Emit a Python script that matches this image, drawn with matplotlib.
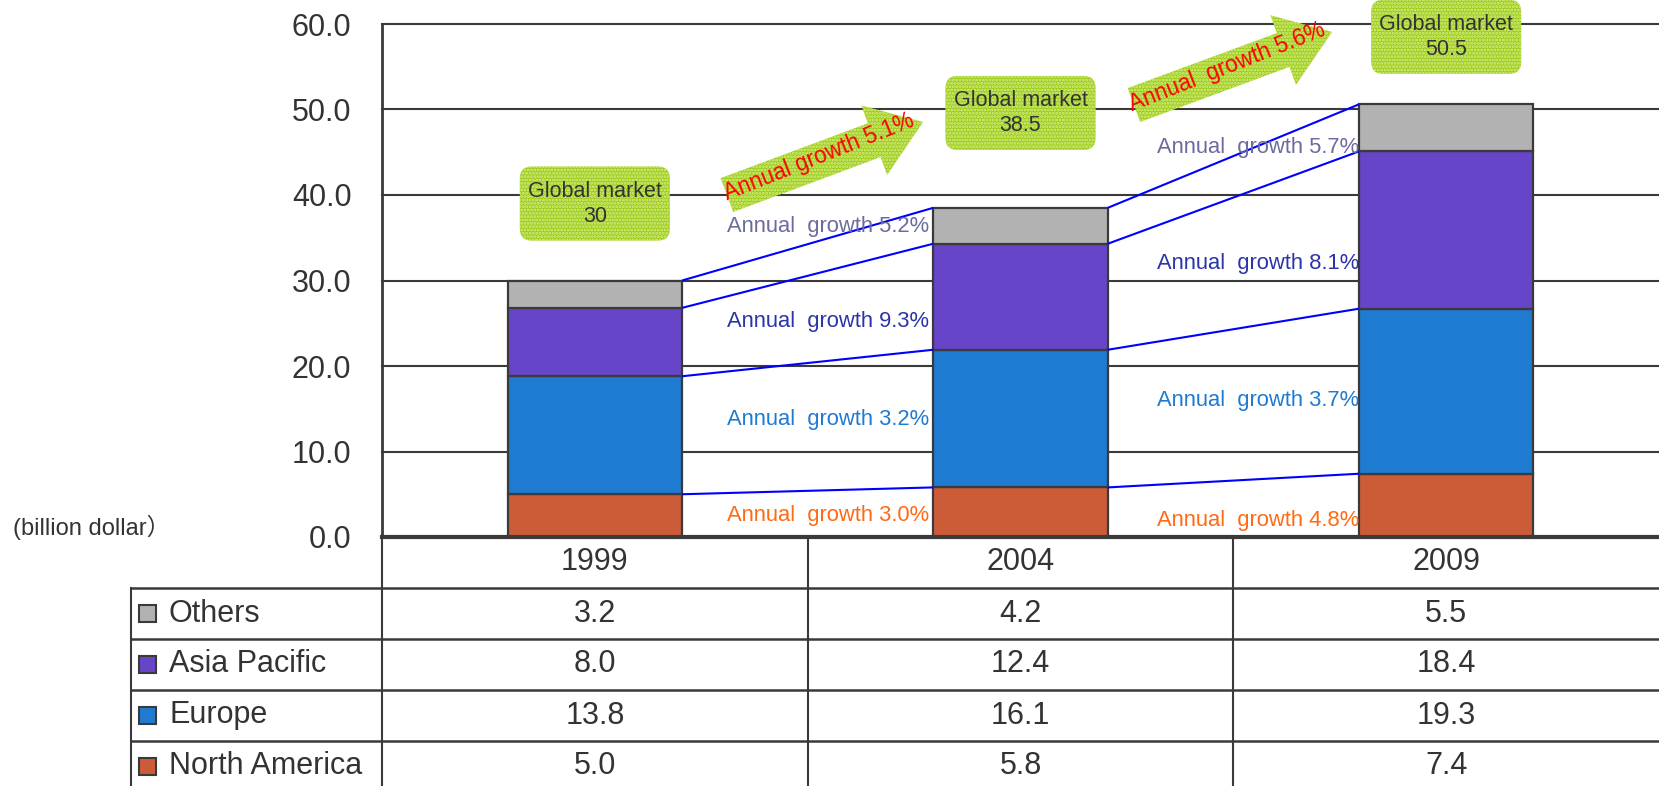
import matplotlib
matplotlib.use("Agg")
import matplotlib.pyplot as plt
from matplotlib.patches import FancyBboxPatch, FancyArrow, Rectangle
import numpy as np

plt.rcParams['font.family'] = ['Liberation Sans', 'Noto Sans CJK JP', 'DejaVu Sans']
plt.rcParams['hatch.linewidth'] = 1.4

# ---------------- data ----------------
years = ["1999", "2004", "2009"]
regions = ["North America", "Europe", "Asia Pacific", "Others"]
north_america = [5.0, 5.8, 7.4]
europe = [13.8, 16.1, 19.3]
asia_pacific = [8.0, 12.4, 18.4]
others = [3.2, 4.2, 5.5]
global_market = [30, 38.5, 50.5]
# annual growth per region (1999->2004, 2004->2009), order as regions
growth_p1 = [3.0, 3.2, 9.3, 5.2]
growth_p2 = [4.8, 3.7, 8.1, 5.7]
global_growth = [5.1, 5.6]
yticks = [0, 10, 20, 30, 40, 50, 60]

# ---------------- style / layout ----------------
colors = ["#cc5c38", "#1f7bd1", "#6645c9", "#b2b2b2"]
text_colors = ["#ff6a13", "#1f7bd1", "#2b34a8", "#6b6b9e"]
dark = "#3a3a3a"
green = "#9dcc1a"
dots = "#d6ee88"
label_y_p1 = [2.5, 13.8, 25.2, 36.3]
label_y_p2 = [1.9, 16.0, 32.0, 45.5]
label_x = [0.785, 1.795]
box_y = [39.0, 49.6, 58.5]

W, H = 1659, 786
fig = plt.figure(figsize=(W / 100, H / 100), dpi=100)
ax_left, ax_bottom, ax_top = 382, 786 - 537, 786 - 24
ax = fig.add_axes([ax_left / W, ax_bottom / H, 1 - ax_left / W, (ax_top - ax_bottom) / H])
ax.set_xlim(-0.5, 2.5)
ax.set_ylim(0, 60)

x = np.arange(len(years))
bw = 0.41
series = [north_america, europe, asia_pacific, others]
bottom = np.zeros(len(years))
cums = []
for vals, c in zip(series, colors):
    ax.bar(x, vals, bw, bottom=bottom, color=c, edgecolor=dark, linewidth=1.6, zorder=3)
    bottom = bottom + np.array(vals)
    cums.append(bottom.copy())

# connector lines
for k in range(len(series)):
    for i in range(len(years) - 1):
        ax.plot([x[i] + bw / 2, x[i + 1] - bw / 2], [cums[k][i], cums[k][i + 1]],
                color="#0000ff", lw=1.5, zorder=4, solid_capstyle='butt')

# growth labels
for k in range(len(series)):
    ax.text(label_x[0], label_y_p1[k], f"Annual  growth {growth_p1[k]:.1f}%", ha='right', va='center',
            fontsize=15.8, color=text_colors[k], zorder=5)
    ax.text(label_x[1], label_y_p2[k], f"Annual  growth {growth_p2[k]:.1f}%", ha='right', va='center',
            fontsize=15.8, color=text_colors[k], zorder=5)

ax.set_yticks(yticks)
ax.set_yticklabels([f"{v:.1f}" for v in yticks], fontsize=22, color="#333333")
ax.tick_params(axis='y', length=0, pad=22)
ax.set_xticks([])
for v in yticks[1:]:
    ax.axhline(v, color=dark, lw=1.5, zorder=0, clip_on=False)
for s in ['top', 'right', 'bottom']:
    ax.spines[s].set_visible(False)
ax.spines['left'].set_color(dark)
ax.spines['left'].set_linewidth(2)
ax.axhline(0, color=dark, lw=3, zorder=6, clip_on=False)

# ---------------- overlay in pixel coords ----------------
ov = fig.add_axes([0, 0, 1, 1], facecolor='none')
ov.set_xlim(0, W)
ov.set_ylim(0, H)
ov.axis('off')
fig.canvas.draw()

def to_px(xd, yd):
    return ax.transData.transform((xd, yd))

# global market boxes
for i, (gm, by) in enumerate(zip(global_market, box_y)):
    cx, cy = to_px(x[i], by)
    bwp, bhp = 150, 74
    p = FancyBboxPatch((cx - bwp / 2, cy - bhp / 2), bwp, bhp,
                       boxstyle="round,pad=0,rounding_size=12",
                       facecolor=green, edgecolor=dots, linewidth=0, hatch='.....', zorder=7)
    ov.add_patch(p)
    ov.text(cx, cy, f"Global market\n{gm:g}", ha='center', va='center', fontsize=15.5,
            color="#333333", linespacing=1.25, zorder=8)

# global growth arrows
arrows = [((727, 786 - 195), (923, 786 - 122)), ((1134, 786 - 105), (1332, 786 - 32))]
for (t, tip), g, txt in zip(arrows, global_growth, ["Annual growth", "Annual  growth"]):
    dx, dy = tip[0] - t[0], tip[1] - t[1]
    a = FancyArrow(t[0], t[1], dx, dy, width=36, head_width=74, head_length=52,
                   length_includes_head=True, facecolor=green, edgecolor=dots, linewidth=0,
                   hatch='.....', zorder=7)
    ov.add_patch(a)
    ang = np.degrees(np.arctan2(dy, dx)) + 1.2
    mx, my = t[0] + dx * 0.47, t[1] + dy * 0.47 + 4
    ov.text(mx, my, f"{txt} {g:.1f}%", ha='center', va='center', rotation=ang,
            rotation_mode='anchor', fontsize=16.3, color="#ff0000", zorder=8)

# unit label
ov.text(13, 786 - 527, "(billion dollar）", ha='left', va='center', fontsize=17, color="#333333")

# ---------------- table ----------------
col_edges = [to_px(v, 0)[0] for v in [-0.5, 0.5, 1.5, 2.5]]
top_y = 786 - 537
row_h = 51
tab_left = 131
lc = dark
for xe in col_edges[:-1]:
    ov.plot([xe, xe], [top_y, -10], color=lc, lw=1.5, zorder=5)
ov.plot([tab_left, tab_left], [top_y - row_h, -10], color=lc, lw=1.5, zorder=5)
for r in range(1, 5):
    yy = top_y - r * row_h
    ov.plot([tab_left, W], [yy, yy], color=lc, lw=1.8, zorder=5)
for i, yr in enumerate(years):
    cx = to_px(x[i], 0)[0]
    ov.text(cx, top_y - row_h / 2, yr, ha='center', va='center', fontsize=22, color="#333333")
order = [3, 2, 1, 0]
for r, k in enumerate(order):
    cy = top_y - (r + 1.5) * row_h
    ov.add_patch(Rectangle((139, cy - 8.5), 17, 17, facecolor=colors[k], edgecolor=dark, lw=1.5, zorder=6))
    ov.text(169, cy, regions[k], ha='left', va='center', fontsize=22, color="#333333")
    for i in range(len(years)):
        cx = to_px(x[i], 0)[0]
        ov.text(cx, cy, f"{series[k][i]:.1f}", ha='center', va='center', fontsize=22, color="#333333")

fig.savefig("out.png", dpi=100)
